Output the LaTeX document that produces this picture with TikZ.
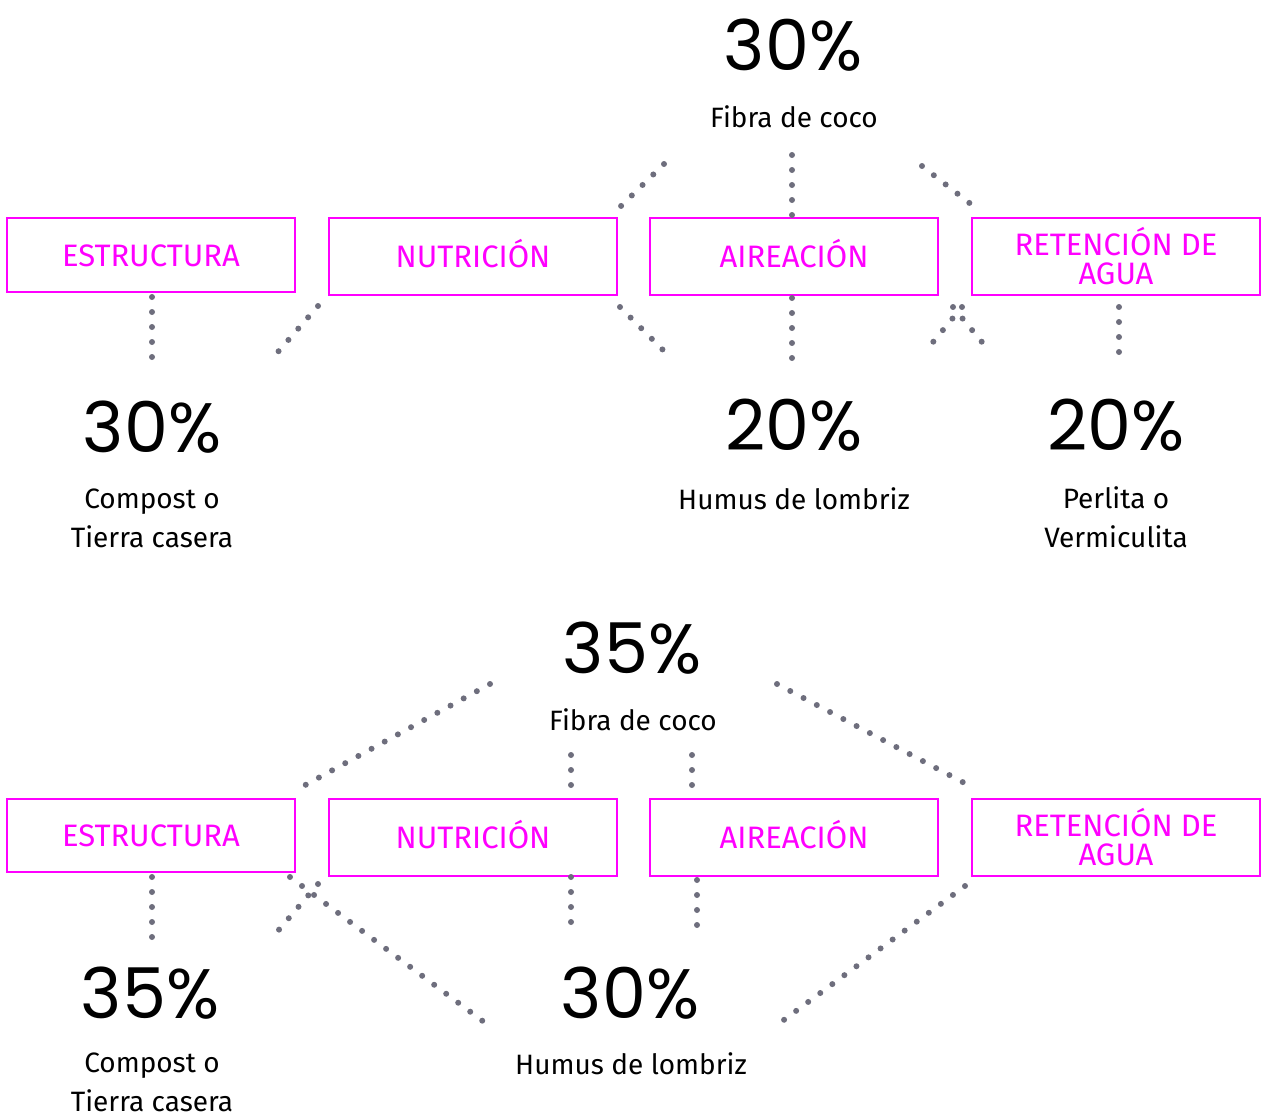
\documentclass[tikz,border=0pt]{standalone}
\usepackage{fontspec}
\setmainfont{Fira Sans}
\newfontfamily\pctfont{Poppins}
\definecolor{mag}{RGB}{255,0,255}
\definecolor{dotc}{RGB}{110,110,125}
\begin{document}
\begin{tikzpicture}[x=1pt,y=-1pt,
  cat/.style={draw=mag,line width=1.5pt,text=mag,minimum width=288pt,inner sep=0pt,align=center,font=\fontsize{31}{29}\selectfont},
  single/.style={text height=22pt,text depth=0pt},
  pct/.style={inner sep=0pt,font=\pctfont\fontsize{70}{70}\selectfont},
  lbl/.style={inner sep=0pt,align=center,font=\fontsize{28}{39}\selectfont},
  dotline/.style={draw=dotc,line width=6pt,line cap=round,dash pattern=on 0pt off 15pt}]
\useasboundingbox (0,0) rectangle (1264,1116);
% ---- top section
\node[cat,single,minimum height=74pt] (e1) at (151,255) {ESTRUCTURA};
\node[cat,single,minimum height=77pt] (n1) at (473,256.5) {NUTRICIÓN};
\node[cat,single,minimum height=77pt] (a1) at (794,256.5) {AIREACIÓN};
\node[cat,minimum height=77pt] (r1) at (1116,256.5) {RETENCIÓN DE\\AGUA};
\node[pct] (pf1) at (793,45) {30\%};
\node[lbl] (lf1) at (794,117) {Fibra de coco};
\node[pct] (pc1) at (152,427) {30\%};
\node[lbl] (lc1) at (152,518) {Compost o\\Tierra casera};
\node[pct] (ph1) at (794,425) {20\%};
\node[lbl] (lh1) at (794,499) {Humus de lombriz};
\node[pct] (pp1) at (1116,425) {20\%};
\node[lbl] (lp1) at (1116,517) {Perlita o\\Vermiculita};
\coordinate (t1) at (664,164); \coordinate (t2) at (620,207);
\coordinate (t3) at (792,155); \coordinate (t4) at (792,215);
\coordinate (t5) at (922,166); \coordinate (t6) at (972,205);
\coordinate (u1) at (152,297); \coordinate (u2) at (152,358);
\coordinate (u3) at (318,306); \coordinate (u4) at (277,353);
\coordinate (u5) at (620,307); \coordinate (u6) at (663,350);
\coordinate (u7) at (792,298); \coordinate (u8) at (792,358);
\coordinate (u9) at (953,307); \coordinate (u10) at (991,353);
\coordinate (u11) at (962,307); \coordinate (u12) at (924,353);
\coordinate (u13) at (1119,307); \coordinate (u14) at (1119,367);
\foreach \s/\e in {t1/t2,t3/t4,t5/t6,u1/u2,u3/u4,u5/u6,u7/u8,u9/u10,u11/u12,u13/u14}
  \draw[dotline] (\s) -- (\e);
% ---- bottom section
\node[cat,single,minimum height=73pt] (e2) at (151,835.5) {ESTRUCTURA};
\node[cat,single,minimum height=77pt] (n2) at (473,837.5) {NUTRICIÓN};
\node[cat,single,minimum height=77pt] (a2) at (794,837.5) {AIREACIÓN};
\node[cat,minimum height=77pt] (r2) at (1116,837.5) {RETENCIÓN DE\\AGUA};
\node[pct] (pf2) at (632,648) {35\%};
\node[lbl] (lf2) at (633,720) {Fibra de coco};
\node[pct] (pc2) at (150,993) {35\%};
\node[lbl] (lc2) at (152,1082) {Compost o\\Tierra casera};
\node[pct] (ph2) at (630,993) {30\%};
\node[lbl] (lh2) at (631,1064) {Humus de lombriz};
\coordinate (v1) at (490,684); \coordinate (v2) at (298,789);
\coordinate (v3) at (777,684); \coordinate (v4) at (972,787);
\coordinate (v5) at (571,755); \coordinate (v6) at (571,797);
\coordinate (v7) at (692,755); \coordinate (v8) at (692,797);
\coordinate (w1) at (152,877); \coordinate (w2) at (152,937);
\coordinate (w3) at (318,884); \coordinate (w4) at (277,932);
\coordinate (w5) at (290,877); \coordinate (w6) at (488,1025);
\coordinate (w7) at (571,877); \coordinate (w8) at (571,927);
\coordinate (w9) at (697,880); \coordinate (w10) at (697,930);
\coordinate (w11) at (965,886); \coordinate (w12) at (777,1025);
\foreach \s/\e in {v1/v2,v3/v4,v5/v6,v7/v8,w1/w2,w3/w4,w5/w6,w7/w8,w9/w10,w11/w12}
  \draw[dotline] (\s) -- (\e);
\end{tikzpicture}
\end{document}
